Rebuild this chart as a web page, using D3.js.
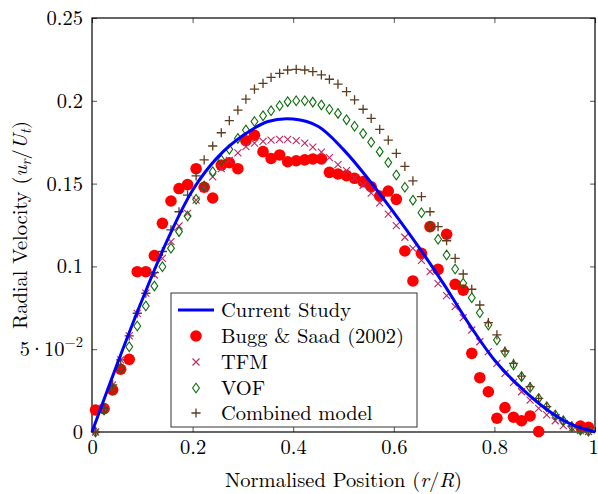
<!DOCTYPE html>
<html>
<head>
<meta charset="utf-8">
<script src="https://cdn.jsdelivr.net/npm/d3@7"></script>
<style>
  html, body { margin: 0; padding: 0; background: #fff; }
  svg { display: block; }
</style>
</head>
<body>
<svg id="chart" width="598" height="494"></svg>
<script>
// ---------- data ----------
const positions = [0.007,0.024,0.041,0.057,0.074,0.090,0.107,0.124,0.140,0.157,
  0.173,0.190,0.207,0.223,0.240,0.257,0.273,0.290,0.306,0.323,
  0.340,0.356,0.373,0.389,0.406,0.423,0.439,0.456,0.472,0.489,
  0.506,0.522,0.539,0.555,0.572,0.589,0.605,0.622,0.638,0.655,
  0.672,0.688,0.705,0.722,0.738,0.755,0.771,0.788,0.805,0.821,
  0.838,0.854,0.871,0.888,0.904,0.921,0.937,0.954,0.971,0.987];

const buggSaad = [0.0133,0.0141,0.0254,0.0379,0.0439,0.0968,0.0968,0.1065,0.126,0.1395,
  0.147,0.1494,0.159,0.1478,0.1413,0.1612,0.1626,0.159,0.1759,0.1792,
  0.1693,0.1652,0.1673,0.1632,0.1638,0.1643,0.1649,0.1649,0.1568,0.1558,
  0.1548,0.1532,0.1512,0.1481,0.1425,0.1455,0.1405,0.1093,0.0912,0.1079,
  0.124,0.0982,0.1194,0.0892,0.0857,0.0475,0.0328,0.0243,0.0083,0.0147,
  0.0089,0.0068,0.0097,0.0002,null,null,null,null,0.0036,0.0028];

const tfm = [0,0.0143,0.0284,0.0435,0.058,0.0717,0.0838,0.0948,0.1049,0.1149,
  0.1244,0.132,0.140,0.147,0.154,0.159,0.164,0.1685,0.1723,0.1745,
  0.1755,0.1763,0.1767,0.1767,0.176,0.1745,0.172,0.169,0.1657,0.1614,
  0.1579,0.1535,0.149,0.1443,0.1384,0.1315,0.1246,0.1176,0.1109,0.1036,
  0.0968,0.0896,0.0824,0.0757,0.069,0.0616,0.0545,0.0485,0.0415,0.0354,
  0.030,0.0243,0.0193,0.0143,0.0103,0.0068,0.0038,0.0022,0.0008,0.0003];

const vof = [0,0.0133,0.0258,0.0385,0.0515,0.064,0.0761,0.0882,0.0998,0.111,
  0.121,0.1304,0.1405,0.1486,0.1572,0.1643,0.1707,0.1773,0.1824,0.1875,
  0.191,0.194,0.197,0.1995,0.2,0.2,0.1992,0.1975,0.1949,0.1924,
  0.1886,0.1846,0.1802,0.175,0.1693,0.1627,0.1552,0.1478,0.140,0.1324,
  0.124,0.1164,0.1069,0.0984,0.0898,0.0811,0.072,0.0646,0.0556,0.0481,
  0.0405,0.0334,0.0268,0.0203,0.0153,0.0103,0.0068,0.0032,0.001,0.0004];

const combined = [0,0.0143,0.0284,0.0435,0.058,0.0717,0.0838,0.0962,0.109,0.122,
  0.133,0.1431,0.1547,0.1643,0.1727,0.1807,0.188,0.1944,0.201,0.2071,
  0.2105,0.2142,0.2166,0.2186,0.219,0.2186,0.2176,0.2156,0.213,0.2101,
  0.2055,0.2005,0.1949,0.1894,0.1828,0.1763,0.1683,0.1604,0.1517,0.1421,
  0.133,0.124,0.1155,0.1049,0.0954,0.0862,0.0767,0.066,0.0586,0.0489,
  0.0415,0.0338,0.0274,0.0203,0.0153,0.0103,0.0068,0.0036,0.0016,0.0006];

const studyX = [0,0.05,0.1,0.15,0.2,0.25,0.3,0.35,0.4,0.45,0.5,0.55,0.6,0.65,0.7,0.75,0.8,0.85,0.9,0.95,1];
const studyY = [0,0.041,0.080,0.116,0.146,0.166,0.179,0.1875,0.189,0.1845,0.1705,0.1525,0.1325,0.1115,0.089,0.065,0.0435,0.0275,0.0145,0.005,0];

const xTicks = [0,0.2,0.4,0.6,0.8,1];
const yTicks = [0,0.05,0.1,0.15,0.2,0.25];
const legendLabels = ["Current Study","Bugg & Saad (2002)","TFM","VOF","Combined model"];

// ---------- layout ----------
const svg = d3.select("#chart");
const mLeft = 92, mRight = 595, mTop = 18, mBottom = 432;
const x = d3.scaleLinear().domain([0,1]).range([mLeft,mRight]);
const y = d3.scaleLinear().domain([0,0.25]).range([mBottom,mTop]);

const colors = {study:"#0000ff", bugg:"#ff0000", tfm:"#c2275f", vof:"#0b6e0b", comb:"#5e3b1c"};
const FS = 20.5;
const FONT = '"Latin Modern Roman", "Liberation Serif", serif';

function styleAxis(g){
  g.select(".domain").remove();
  g.selectAll(".tick line").attr("stroke","#555").attr("stroke-width",1);
}
function styleText(sel){
  sel.style("font-family", FONT).style("font-size", FS + "px").attr("fill","#000");
}
const xAxisG = svg.append("g").attr("transform",`translate(0,${mBottom})`)
  .call(d3.axisBottom(x).tickValues(xTicks).tickSize(-5).tickPadding(7)
        .tickFormat(d => d===0 ? "0" : d===1 ? "1" : d3.format(".1f")(d)))
  .call(styleAxis)
  .call(g => styleText(g.selectAll("text")));
xAxisG.selectAll(".tick text").filter(d => d===1).attr("dx",-2);
svg.append("g").attr("transform",`translate(0,${mTop})`)
  .call(d3.axisTop(x).tickValues(xTicks).tickSize(-5).tickFormat(""))
  .call(styleAxis);
const yAxisG = svg.append("g").attr("transform",`translate(${mLeft},0)`)
  .call(d3.axisLeft(y).tickValues(yTicks).tickSize(-5).tickPadding(9)
        .tickFormat(d => d===0 ? "0" : d===0.05 ? "5e-2" : String(+d.toFixed(2))))
  .call(styleAxis)
  .call(g => styleText(g.selectAll("text")));
svg.append("g").attr("transform",`translate(${mRight},0)`)
  .call(d3.axisRight(y).tickValues(yTicks).tickSize(-5).tickFormat(""))
  .call(styleAxis);

yAxisG.selectAll(".tick text").filter(d => d===0.05).each(function(){
  const t = d3.select(this).text("");
  t.append("tspan").text("5");
  t.append("tspan").attr("dx",-1).text("\u00B7");
  t.append("tspan").attr("dx",-1).text("10");
  t.append("tspan").attr("dy",-9).style("font-size","14.5px").text("\u2212" + "2");
});

svg.append("rect").attr("x",mLeft).attr("y",mTop).attr("width",mRight-mLeft).attr("height",mBottom-mTop)
  .attr("fill","none").attr("stroke","#000").attr("stroke-width",1.2);

// ---------- series ----------
const pts = (arr) => positions.map((p,i)=>({x:p,y:arr[i]})).filter(d=>d.y!==null);

function plusPath(cx,cy,s){ return `M${cx-s},${cy}H${cx+s}M${cx},${cy-s}V${cy+s}`; }
function crossPath(cx,cy,s){ return `M${cx-s},${cy-s}L${cx+s},${cy+s}M${cx-s},${cy+s}L${cx+s},${cy-s}`; }
function diamondPath(cx,cy,w,h){ return `M${cx},${cy-h}L${cx+w},${cy}L${cx},${cy+h}L${cx-w},${cy}Z`; }

svg.append("g").selectAll("circle").data(pts(buggSaad)).join("circle")
  .attr("cx",d=>x(d.x)).attr("cy",d=>y(d.y)).attr("r",5.8).attr("fill",colors.bugg);

svg.append("g").selectAll("path").data(pts(tfm)).join("path")
  .attr("d",d=>crossPath(x(d.x),y(d.y),3.5)).attr("stroke",colors.tfm).attr("stroke-width",1.1).attr("fill","none");

svg.append("g").selectAll("path").data(pts(vof)).join("path")
  .attr("d",d=>diamondPath(x(d.x),y(d.y),3.4,4.8)).attr("stroke",colors.vof).attr("stroke-width",1.1).attr("fill","none");

svg.append("g").selectAll("path").data(pts(combined)).join("path")
  .attr("d",d=>plusPath(x(d.x),y(d.y),4.6)).attr("stroke",colors.comb).attr("stroke-width",1.3).attr("fill","none");

const line = d3.line().x(d=>x(d[0])).y(d=>y(d[1])).curve(d3.curveCatmullRom.alpha(0.5));
svg.append("path").datum(studyX.map((v,i)=>[v,studyY[i]]))
  .attr("d",line).attr("fill","none").attr("stroke",colors.study).attr("stroke-width",3);

// ---------- legend ----------
const lg = svg.append("g");
lg.append("rect").attr("x",171).attr("y",293).attr("width",246).attr("height",134)
  .attr("fill","#fff").attr("stroke","#333").attr("stroke-width",1);
const rowY = [310,336,362,388,413];
const mx = 196;
lg.append("line").attr("x1",178).attr("x2",214).attr("y1",rowY[0]).attr("y2",rowY[0])
  .attr("stroke",colors.study).attr("stroke-width",3);
lg.append("circle").attr("cx",mx).attr("cy",rowY[1]).attr("r",5.8).attr("fill",colors.bugg);
lg.append("path").attr("d",crossPath(mx,rowY[2],3.5)).attr("stroke",colors.tfm).attr("stroke-width",1.1).attr("fill","none");
lg.append("path").attr("d",diamondPath(mx,rowY[3],3.4,4.8)).attr("stroke",colors.vof).attr("stroke-width",1.1).attr("fill","none");
lg.append("path").attr("d",plusPath(mx,rowY[4],4.6)).attr("stroke",colors.comb).attr("stroke-width",1.3).attr("fill","none");
lg.selectAll("text.lab").data(legendLabels).join("text").attr("class","lab")
  .attr("x",221).attr("y",(d,i)=>rowY[i]).attr("dy","0.35em")
  .call(styleText).text(d=>d);

// ---------- axis titles ----------
const xt = svg.append("text").attr("x",(mLeft+mRight)/2).attr("y",487).attr("text-anchor","middle")
  .call(styleText);
xt.append("tspan").text("Normalised Position (");
xt.append("tspan").style("font-style","italic").text("r");
xt.append("tspan").text("/");
xt.append("tspan").style("font-style","italic").text("R");
xt.append("tspan").text(")");

const yt = svg.append("text").attr("transform",`translate(27,${(mTop+mBottom)/2}) rotate(-90)`)
  .attr("text-anchor","middle").call(styleText);
yt.append("tspan").text("Radial Velocity (");
yt.append("tspan").style("font-style","italic").text("u");
yt.append("tspan").style("font-style","italic").style("font-size","14.5px").attr("dy",4).text("r");
yt.append("tspan").attr("dy",-4).text("/");
yt.append("tspan").style("font-style","italic").text("U");
yt.append("tspan").style("font-style","italic").style("font-size","14.5px").attr("dy",4).text("t");
yt.append("tspan").attr("dy",-4).text(")");
</script>
</body>
</html>
